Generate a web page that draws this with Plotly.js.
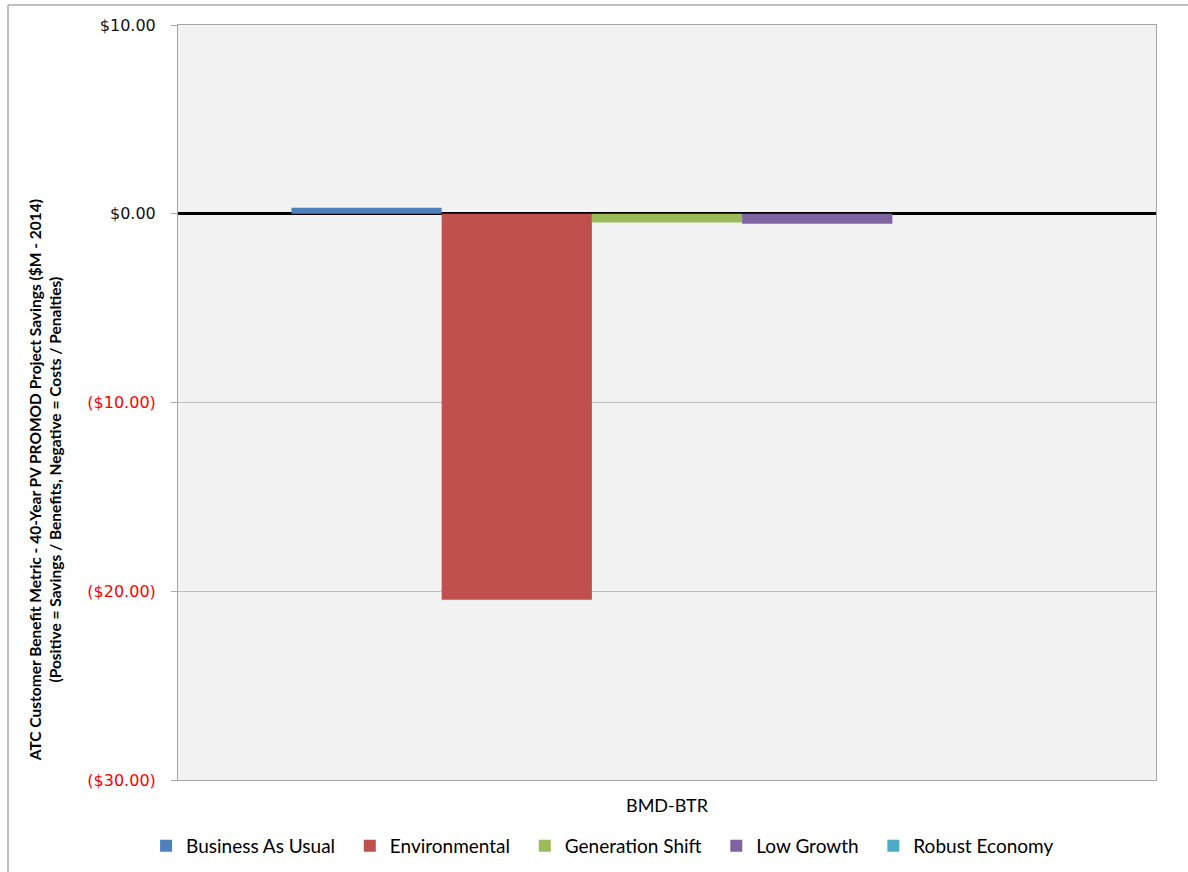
<!DOCTYPE html>
<html>
<head>
<meta charset="utf-8">
<script src="https://cdn.plot.ly/plotly-3.0.1.min.js"></script>
<style>
html,body{margin:0;padding:0;background:#fff;}
#chart{width:1188px;height:872px;}
</style>
</head>
<body>
<div id="chart"></div>
<script>
const category = ['BMD-BTR'];
const seriesNames = ['Business As Usual', 'Environmental', 'Generation Shift', 'Low Growth', 'Robust Economy'];
const seriesValues = [0.32, -20.45, -0.47, -0.53, 0.0];
const seriesColors = ['#4f81bd', '#c0504d', '#9bbb59', '#8064a2', '#4bacc6'];
const tickVals = [10, 0, -10, -20, -30];
const tickLabels = ['$10.00', '$0.00',
  '<span style="color:#ff0000">($10.00)</span>',
  '<span style="color:#ff0000">($20.00)</span>',
  '<span style="color:#ff0000">($30.00)</span>'];
const yTitle = '<b>ATC Customer Benefit Metric - 40-Year PV PROMOD Project Savings ($M - 2014)<br>(Positive = Savings / Benefits, Negative = Costs / Penalties)</b>';

const traces = seriesNames.map((name, i) => ({
  type: 'bar',
  name: name + '\u00a0\u00a0',
  x: category,
  y: [seriesValues[i]],
  marker: {color: seriesColors[i], line: {width: 0}},
  hoverinfo: 'name+y'
}));

const layout = {
  width: 1188,
  height: 872,
  paper_bgcolor: '#ffffff',
  plot_bgcolor: '#f2f2f2',
  margin: {l: 178, r: 32, t: 25, b: 92, autoexpand: false},
  barmode: 'group',
  bargap: 0.232,
  bargroupgap: 0,
  font: {family: 'Lato, "Open Sans", sans-serif', color: '#000'},
  showlegend: true,
  legend: {
    orientation: 'h',
    xref: 'container', yref: 'container',
    x: 0.511, xanchor: 'center',
    y: 0.03, yanchor: 'middle',
    bgcolor: 'rgba(0,0,0,0)',
    font: {family: 'Lato, sans-serif', size: 19, color: '#000'},
    itemclick: false,
    traceorder: 'normal'
  },
  xaxis: {
    type: 'category',
    showgrid: false,
    showline: true,
    linecolor: '#a6a6a6',
    linewidth: 1,
    mirror: true,
    ticks: '',
    tickfont: {family: 'Lato, sans-serif', size: 18, color: '#000'},
    ticklabelstandoff: 9,
    fixedrange: true
  },
  yaxis: {
    range: [-30, 10],
    tickvals: tickVals,
    ticktext: tickLabels,
    tickfont: {family: '"DejaVu Sans", Verdana, sans-serif', size: 16, color: '#111'},
    ticks: 'outside',
    ticklen: 6,
    tickcolor: '#a6a6a6',
    ticklabelstandoff: 12,
    showgrid: true,
    gridcolor: '#bfbfbf',
    gridwidth: 1,
    showline: true,
    linecolor: '#a6a6a6',
    linewidth: 1,
    mirror: true,
    zeroline: true,
    zerolinecolor: '#000000',
    zerolinewidth: 3,
    automargin: false,
    fixedrange: true
  },
  annotations: [{
    text: yTitle,
    xref: 'paper', yref: 'paper',
    x: -0.136, y: 0.397,
    xanchor: 'center', yanchor: 'middle',
    textangle: -90,
    showarrow: false,
    font: {family: 'Lato, sans-serif', size: 15.5, color: '#000'}
  }],
  shapes: [
    {type: 'line', xref: 'paper', yref: 'paper', x0: -0.1738, x1: 1.04, y0: 1.0265, y1: 1.0265,
     line: {color: '#bfbfbf', width: 2}},
    {type: 'line', xref: 'paper', yref: 'paper', x0: -0.1738, x1: -0.1738, y0: 1.0265, y1: -0.13,
     line: {color: '#bfbfbf', width: 2}}
  ]
};

Plotly.newPlot('chart', traces, layout, {displayModeBar: false, staticPlot: true});
</script>
</body>
</html>
